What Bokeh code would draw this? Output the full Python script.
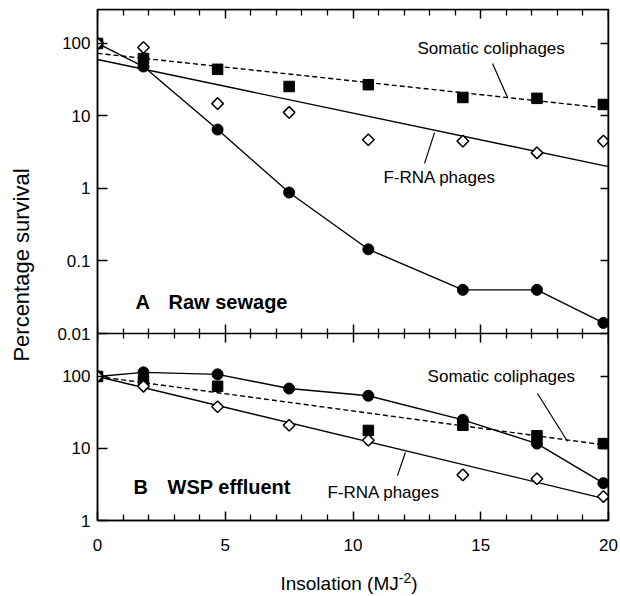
import math
from bokeh.plotting import figure
from bokeh.models import Range1d, LogAxis, LinearAxis, FixedTicker, LogScale
from bokeh.layouts import column
from bokeh.embed import file_html
from bokeh.resources import INLINE
from bokeh.core.properties import value

FONT = "Liberation Sans"

# ---------------- data ----------------
insolation = [0, 1.8, 4.7, 7.5, 10.6, 14.3, 17.2, 19.8]

# Panel A: raw sewage
a_faecal = [100, 48, 6.5, 0.88, 0.145, 0.04, 0.04, 0.014]
a_somatic = [100, 62, 44, 25.5, 27, 18, 17.5, 14.4]
a_frna = [100, 88, 14.8, 11.2, 4.7, 4.5, 3.1, 4.5]

# Panel B: WSP effluent
b_faecal = [100, 114, 107, 68, 54, 25, 11.7, 3.3]
b_somatic_x = [0, 1.8, 4.7, 10.6, 14.3, 17.2, 19.8]
b_somatic = [100, 88, 73, 17.8, 21, 15, 11.7]
b_frna = [100, 73, 38, 21, 13, 4.3, 3.8, 2.15]

# fitted regression lines (end points)
fit_x = [0, 20]
a_somatic_fit = [73, 12.7]
a_frna_fit = [60, 2.0]
b_somatic_fit = [100, 11]
b_frna_fit = [100, 1.95]

x_major = [0, 5, 10, 15, 20]
x_minor = [1, 2, 3, 4, 6, 7, 8, 9, 11, 12, 13, 14, 16, 17, 18, 19]
x_labels = ["0", "5", "10", "15", "20"]
a_yticks = [0.01, 0.1, 1, 10, 100]
a_ylabels = ["0.01", "0.1", "1", "10", "100"]
b_yticks = [1, 10, 100]
b_ylabels = ["1", "10", "100"]

# panel extents: A spans 0.01..294, B spans 1..395
A_LO, A_HI = 0.01, 294
B_LO, B_HI = 1, 395
A_PX, B_PX = 324, 187          # frame heights of the two panels
FRAME_H = A_PX + B_PX

# one shared frame; each panel's log range is extended so that its own
# decades occupy only its part of the frame
A_START = A_LO / (A_HI / A_LO) ** (B_PX / A_PX)
a_range = Range1d(A_START, A_HI)
b_range = Range1d(B_LO, B_LO * (B_HI / B_LO) ** (FRAME_H / B_PX))
x_range = Range1d(0, 20)


def b_to_a(t):
    """Express a panel-B value in the coordinate of the shared (panel-A) left axis."""
    px = math.log(t / B_LO) / math.log(B_HI / B_LO) * B_PX
    return A_START * (A_HI / A_LO) ** (px / A_PX)


def style_axis(ax, ticks, minor, tick_in, minor_in, labels=None, standoff=7,
               fixed=None, tick_out=0, minor_out=0):
    ax.ticker = FixedTicker(ticks=ticks, minor_ticks=minor)
    ax.axis_line_color = "black"
    ax.axis_line_width = 1.5
    ax.major_tick_line_color = "black"
    ax.major_tick_line_width = 1.5
    ax.minor_tick_line_color = "black"
    ax.minor_tick_line_width = 1.3
    ax.major_tick_in = tick_in
    ax.major_tick_out = tick_out
    ax.minor_tick_in = minor_in
    ax.minor_tick_out = minor_out
    if fixed is not None:
        ax.fixed_location = fixed
    if labels is not None:
        ax.major_label_overrides = dict(zip(ticks, labels))
        ax.major_label_text_font = FONT
        ax.major_label_text_font_size = "17px"
        ax.major_label_text_color = "black"
        ax.major_label_standoff = standoff
    else:
        ax.major_label_text_color = None
        ax.major_label_standoff = 0


p = figure(x_range=x_range, y_range=a_range, y_axis_type="log",
           frame_width=511, frame_height=FRAME_H,
           output_backend="svg", toolbar_location=None,
           min_border_left=97, min_border_right=10,
           min_border_top=9, min_border_bottom=40,
           background_fill_color="white", border_fill_color="white",
           outline_line_color="black", outline_line_width=1.5)
p.extra_y_ranges = {"b": b_range}
p.extra_y_scales = {"b": LogScale()}
p.grid.visible = False

# left axis: labels of both panels, plus the shared y title
left_ticks = a_yticks + [b_to_a(t) for t in b_yticks]
left_labels = a_ylabels + b_ylabels
yax = p.yaxis[0]
style_axis(yax, left_ticks, [], 10, 0, left_labels, standoff=7)
yax.axis_label = "Percentage survival"
yax.axis_label_text_font = FONT
yax.axis_label_text_font_size = "22px"
yax.axis_label_text_font_style = "normal"
yax.axis_label_text_color = "black"
yax.axis_label_standoff = 20
# right axes (ticks only)
right_a = LogAxis()
style_axis(right_a, a_yticks, [], 8, 0, fixed=20)
p.add_layout(right_a, "right")
right_b = LogAxis(y_range_name="b")
style_axis(right_b, b_yticks, [], 8, 0, fixed=20)
p.add_layout(right_b, "right")
# bottom axis with labels
style_axis(p.xaxis[0], x_major, x_minor, 9, 6, x_labels, standoff=18)
# top axis (ticks only)
top_ax = LinearAxis()
style_axis(top_ax, x_major, x_minor, 9, 6, fixed=A_HI)
p.add_layout(top_ax, "above")
# divider between the panels: ticks on both sides
div_ax = LinearAxis()
style_axis(div_ax, x_major, x_minor, 9, 5, fixed=A_LO, tick_out=9, minor_out=5)
p.add_layout(div_ax, "below")


def draw_series(faecal, som_x, somatic, frna, som_fit, frna_fit, rn):
    p.line(insolation, faecal, line_color="black", line_width=1.4, y_range_name=rn)
    p.line(fit_x, som_fit, line_color="black", line_width=1.4, line_dash="5 3",
           y_range_name=rn)
    p.line(fit_x, frna_fit, line_color="black", line_width=1.4, y_range_name=rn)
    p.scatter(som_x, somatic, marker="square", size=10.5,
              fill_color="black", line_color="black", y_range_name=rn)
    p.scatter(insolation, faecal, marker="circle", size=11,
              fill_color="black", line_color="black", y_range_name=rn)
    p.scatter(insolation, frna, marker="square", size=8.2, angle=math.pi / 4,
              fill_color="white", line_color="black", line_width=1.5,
              y_range_name=rn)


def txt(fig, xs, ys, texts, rn="default", size="17px", bold=False):
    fig.text(x=xs, y=ys, text=texts, text_font=value(FONT), text_font_size=size,
             text_font_style="bold" if bold else "normal",
             text_align="left", text_baseline="middle", text_color="black",
             y_range_name=rn)


# ---------------- panel A ----------------
draw_series(a_faecal, insolation, a_somatic, a_frna, a_somatic_fit, a_frna_fit, "default")
txt(p, [1.49, 2.78], [0.0268, 0.0268], ["A", "Raw sewage"], "default", "20px", True)
txt(p, [12.52], [85], ["Somatic coliphages"])
txt(p, [11.19], [1.42], ["F-RNA phages"])
p.segment(x0=[15.46, 12.8], y0=[53, 2.22], x1=[16.05, 13.19], y1=[18.0, 5.9],
          line_color="black", line_width=1.2)

# ---------------- panel B ----------------
draw_series(b_faecal, b_somatic_x, b_somatic, b_frna, b_somatic_fit, b_frna_fit, "b")
txt(p, [1.41, 2.74], [2.96, 2.96], ["B", "WSP effluent"], "b", "20px", True)
txt(p, [12.92], [100], ["Somatic coliphages"], "b")
txt(p, [9.0], [2.45], ["F-RNA phages"], "b")
p.segment(x0=[17.22, 11.74], y0=[58, 4.2], x1=[18.4, 12.05], y1=[12.5, 8.8],
          line_color="black", line_width=1.2, y_range_name="b")

# ---------------- x title (own strip sharing the x range) ----------------
xlab = figure(width=97 + 511 + 10, height=35, x_range=x_range, y_range=Range1d(35, 0),
              output_backend="svg", toolbar_location=None,
              min_border_left=97, min_border_right=10, min_border_top=0,
              min_border_bottom=0, x_axis_location=None, y_axis_location=None,
              outline_line_color=None, background_fill_color="white",
              border_fill_color="white")
xlab.grid.visible = False
txt(xlab, [7.16], [23], ["Insolation (MJ"], size="19px")
txt(xlab, [11.79], [17], ["-2"], size="14px")
txt(xlab, [12.28], [23], [")"], size="19px")

layout = column(p, xlab, spacing=0)

open("out.html", "w").write(file_html(layout, INLINE))
